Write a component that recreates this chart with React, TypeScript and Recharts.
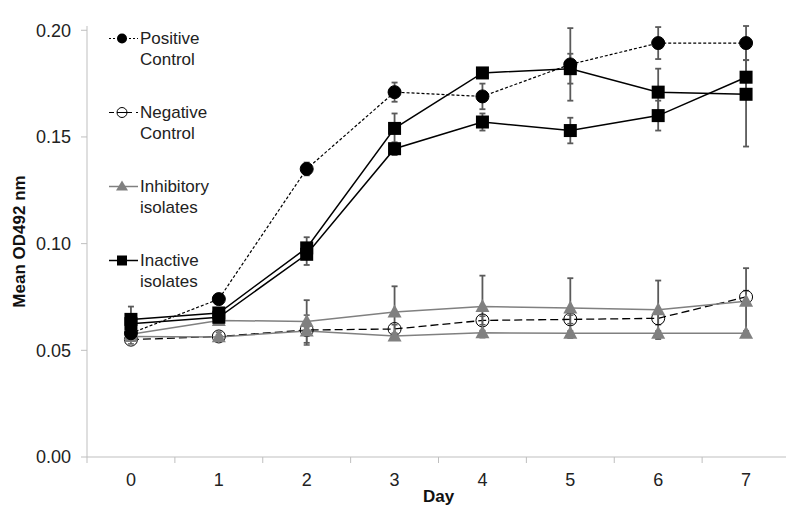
import { CartesianGrid, ErrorBar, Label, Legend, Line, LineChart, XAxis, YAxis } from 'recharts';

const days = [0, 1, 2, 3, 4, 5, 6, 7];
const positive = [0.058, 0.074, 0.135, 0.171, 0.169, 0.184, 0.194, 0.194];
const positiveErr = [0.002, 0.002, 0.003, 0.0045, 0.006, 0.017, 0.0075, 0.008];
const negative = [0.055, 0.0565, 0.0595, 0.06, 0.064, 0.0645, 0.065, 0.075];
const negativeErr = [0.002, 0.002, 0.007, 0.002, 0.002, 0.002, 0.003, 0.003];
const inhibitoryHigh = [0.0575, 0.064, 0.0635, 0.068, 0.0705, 0.0698, 0.069, 0.073];
const inhibitoryHighErr = [0.002, 0.002, 0.01, 0.012, 0.0145, 0.014, 0.0137, 0.0155];
const inhibitoryLow = [0.0565, 0.0563, 0.059, 0.0567, 0.0582, 0.058, 0.058, 0.058];
const inhibitoryLowErr = [0.001, 0.001, 0.002, 0.001, 0.001, 0.001, 0.001, 0.001];
const inactiveA = [0.0645, 0.0675, 0.098, 0.154, 0.18, 0.182, 0.171, 0.17];
const inactiveAErr = [0.006, 0.002, 0.005, 0.007, 0.002, 0.007, 0.011, 0.0245];
const inactiveB = [0.0625, 0.0655, 0.095, 0.1445, 0.157, 0.153, 0.16, 0.178];
const inactiveBErr = [0.003, 0.002, 0.005, 0.003, 0.004, 0.006, 0.007, 0.008];
const yTicks = [0, 0.05, 0.1, 0.15, 0.2];

const data = days.map((day, i) => ({
  day,
  positive: positive[i],
  positiveErr: positiveErr[i],
  negative: negative[i],
  negativeErr: negativeErr[i],
  inhHigh: inhibitoryHigh[i],
  inhHighErr: inhibitoryHighErr[i],
  inhLow: inhibitoryLow[i],
  inhLowErr: inhibitoryLowErr[i],
  inaA: inactiveA[i],
  inaAErr: inactiveAErr[i],
  inaB: inactiveB[i],
  inaBErr: inactiveBErr[i],
}));

const FONT = '"Liberation Sans", Arial, sans-serif';
const AXIS = '#bfbfbf';
const GREY = '#808080';
const ERR = '#5a5a5a';
const CHART_W = 790;
const CHART_H = 517;
const PLOT_LEFT = 87;
const PLOT_BOTTOM = 457;
const HALF = (CHART_W - PLOT_LEFT) / 16;

const circleDot = (fill: string) => (p: any) => (
  <circle key={p.index} cx={p.cx} cy={p.cy} r={6.5} fill={fill} stroke="#000" strokeWidth={1} />
);
const squareDot = (p: any) => (
  <rect key={p.index} x={p.cx - 6.5} y={p.cy - 6.5} width={13} height={13} fill="#000" />
);
const triangleDot = (p: any) => (
  <path key={p.index} d={`M${p.cx},${p.cy - 7.5}L${p.cx + 7},${p.cy + 5.5}L${p.cx - 7},${p.cy + 5.5}Z`} fill={GREY} />
);

const XTick = ({ x, payload }: any) => (
  <g>
    <line x1={x - HALF} x2={x - HALF} y1={PLOT_BOTTOM} y2={PLOT_BOTTOM + 6} stroke={AXIS} />
    <text x={x} y={PLOT_BOTTOM + 29} textAnchor="middle" fontSize={18} fill="#222" fontFamily={FONT}>
      {payload.value}
    </text>
  </g>
);

const legendItems = [
  { lines: ['Positive', 'Control'], kind: 'pos' },
  { lines: ['Negative', 'Control'], kind: 'neg' },
  { lines: ['Inhibitory', 'isolates'], kind: 'inh' },
  { lines: ['Inactive', 'isolates'], kind: 'ina' },
];

function LegendMarker({ kind }: { kind: string }) {
  return (
    <svg width={31} height={21} style={{ display: 'block' }}>
      {kind === 'pos' && (
        <>
          <line x1={0} x2={29} y1={10.5} y2={10.5} stroke="#000" strokeDasharray="2 2" />
          <circle cx={13} cy={10.5} r={5} fill="#000" />
        </>
      )}
      {kind === 'neg' && (
        <>
          <line x1={0} x2={29} y1={10.5} y2={10.5} stroke="#000" strokeDasharray="5 4" />
          <circle cx={13} cy={10.5} r={5} fill="#fff" stroke="#000" />
          <line x1={8} x2={18} y1={10.5} y2={10.5} stroke="#000" />
        </>
      )}
      {kind === 'inh' && (
        <>
          <line x1={0} x2={29} y1={10.5} y2={10.5} stroke={GREY} strokeWidth={1.5} />
          <path d="M13,4.5L19,14.5L7,14.5Z" fill={GREY} />
        </>
      )}
      {kind === 'ina' && (
        <>
          <line x1={0} x2={29} y1={10.5} y2={10.5} stroke="#000" strokeWidth={1.5} />
          <rect x={8} y={5.5} width={10} height={10} fill="#000" />
        </>
      )}
    </svg>
  );
}

const renderLegend = () => (
  <div style={{ fontFamily: FONT, fontSize: 17, color: '#222', lineHeight: '21px' }}>
    {legendItems.map((it) => (
      <div key={it.kind} style={{ display: 'flex', alignItems: 'flex-start', marginBottom: 32 }}>
        <LegendMarker kind={it.kind} />
        <div>
          {it.lines.map((l) => (
            <div key={l}>{l}</div>
          ))}
        </div>
      </div>
    ))}
  </div>
);

const YLabel = ({ viewBox }: any) => {
  const cy = viewBox.y + viewBox.height / 2;
  return (
    <text
      x={19}
      y={cy}
      transform={`rotate(-90, 19, ${cy})`}
      textAnchor="middle"
      dominantBaseline="central"
      fontSize={17}
      fontWeight="bold"
      fill="#111"
      fontFamily={FONT}
    >
      Mean OD492 nm
    </text>
  );
};

export default function App() {
  return (
    <div style={{ position: 'absolute', left: 0, top: 0, width: 786, height: 517, overflow: 'hidden', background: '#fff' }}>
      <LineChart width={CHART_W} height={CHART_H} data={data} margin={{ top: 26, right: 0, bottom: 0, left: 0 }}>
        <CartesianGrid horizontal={false} vertical={false} />
        <XAxis
          dataKey="day"
          type="number"
          domain={[-0.5, 7.5]}
          ticks={days}
          height={CHART_H - PLOT_BOTTOM}
          stroke={AXIS}
          tickLine={false}
          tick={<XTick />}
          interval={0}
        >
          <Label
            value="Day"
            position="insideBottom"
            offset={15}
            style={{ fontSize: 17, fontWeight: 'bold', fill: '#111', fontFamily: FONT }}
          />
        </XAxis>
        <YAxis
          width={PLOT_LEFT}
          domain={[0, 0.2]}
          ticks={yTicks}
          stroke={AXIS}
          tickSize={6}
          tickMargin={10}
          tickFormatter={(v: number) => v.toFixed(2)}
          tick={{ fontSize: 18, fill: '#222', fontFamily: FONT }}
        >
          <Label content={<YLabel />} />
        </YAxis>
        <Legend
          layout="vertical"
          align="center"
          verticalAlign="middle"
          content={renderLegend}
          wrapperStyle={{ left: 109, top: 28, width: 140, height: 'auto' }}
        />
        <Line dataKey="negative" stroke="#000" strokeWidth={1.3} strokeDasharray="8 4" dot={circleDot('none')} activeDot={false} isAnimationActive={false}>
          <ErrorBar dataKey="negativeErr" stroke={ERR} strokeWidth={1.5} width={3} />
        </Line>
        <Line dataKey="inhHigh" stroke={GREY} strokeWidth={1.5} dot={triangleDot} activeDot={false} isAnimationActive={false}>
          <ErrorBar dataKey="inhHighErr" stroke={ERR} strokeWidth={1.8} width={3} />
        </Line>
        <Line dataKey="inhLow" stroke={GREY} strokeWidth={1.5} dot={triangleDot} activeDot={false} isAnimationActive={false}>
          <ErrorBar dataKey="inhLowErr" stroke={ERR} strokeWidth={1.8} width={3} />
        </Line>
        <Line dataKey="inaA" stroke="#000" strokeWidth={1.5} dot={squareDot} activeDot={false} isAnimationActive={false}>
          <ErrorBar dataKey="inaAErr" stroke={ERR} strokeWidth={1.8} width={3} />
        </Line>
        <Line dataKey="inaB" stroke="#000" strokeWidth={1.5} dot={squareDot} activeDot={false} isAnimationActive={false}>
          <ErrorBar dataKey="inaBErr" stroke={ERR} strokeWidth={1.8} width={3} />
        </Line>
        <Line dataKey="positive" stroke="#000" strokeWidth={1.2} strokeDasharray="3 2" dot={circleDot('#000')} activeDot={false} isAnimationActive={false}>
          <ErrorBar dataKey="positiveErr" stroke={ERR} strokeWidth={1.8} width={3} />
        </Line>
      </LineChart>
    </div>
  );
}
